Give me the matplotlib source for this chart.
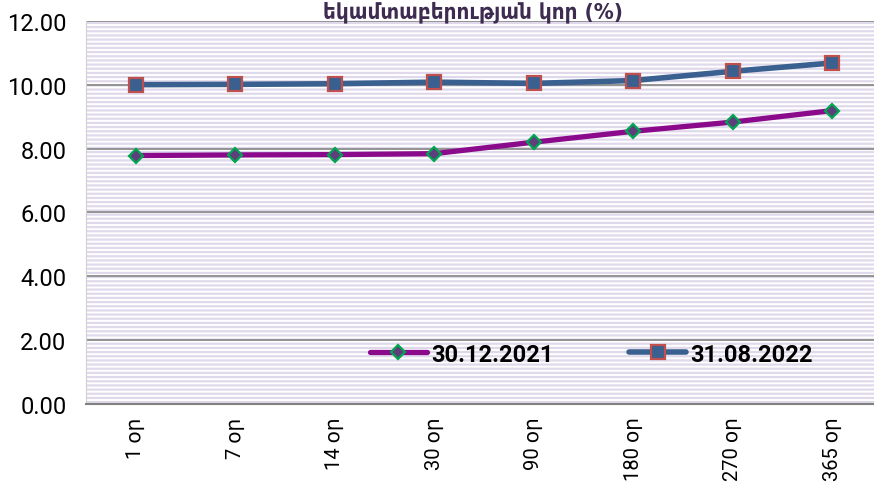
import numpy as np
import matplotlib
matplotlib.use("Agg")
import matplotlib.pyplot as plt
from matplotlib.patches import Rectangle

# yield curve data (%)
terms = ["1 օր", "7 օր", "14 օր", "30 օր", "90 օր", "180 օր", "270 օր", "365 օր"]
curve_2021 = [7.78, 7.80, 7.81, 7.84, 8.20, 8.54, 8.83, 9.19]
curve_2022 = [10.00, 10.01, 10.03, 10.08, 10.04, 10.13, 10.42, 10.68]
label_2021 = "30.12.2021"
label_2022 = "31.08.2022"
title = "եկամտաբերության կոր (%)"

plt.rcParams['font.family'] = ['Roboto', 'DejaVu Sans']
plt.rcParams['hatch.linewidth'] = 1.6

fig = plt.figure(figsize=(8.74, 4.85), dpi=100)
ax = fig.add_axes([0.0984, 0.165, 0.911, 0.79])

# striped background
bg = Rectangle((0, 0), 1, 1, transform=ax.transAxes, facecolor="white",
               edgecolor="#e0d9eb", hatch="----", linewidth=0, zorder=0)
ax.add_patch(bg)
ax.set_facecolor("white")

x = np.arange(len(terms))
ax.plot(x, curve_2021, color="#8b0a8b", lw=3.8, marker="D", ms=7,
        mfc="#5e3f7c", mec="#00a651", mew=1.6, label=label_2021, zorder=3,
        solid_capstyle="round")
ax.plot(x, curve_2022, color="#3a6090", lw=4.0, marker="s", ms=10.5,
        mfc="#3a6090", mec="#c0504d", mew=1.6, label=label_2022, zorder=3,
        solid_capstyle="round")

ax.set_xlim(-0.5, len(terms) - 0.5)
ax.set_ylim(0, 12)
ax.set_yticks(np.arange(0, 13, 2))
ax.set_yticklabels([f"{v:.2f}" for v in np.arange(0, 13, 2)])
ax.set_xticks(x)
ax.set_xticklabels(terms, rotation=90, va="top", ha="center", fontsize=14.5)
ax.tick_params(axis="y", length=0, labelsize=17, colors="black", pad=14)
ax.tick_params(axis="x", length=0, colors="black", pad=9)

ax.grid(axis="y", color="#8c8c8c", lw=1.3, zorder=1)
ax.set_axisbelow(True)
for s in ["top", "right"]:
    ax.spines[s].set_visible(False)
ax.spines["left"].set_color("#d0d0d0")
ax.spines["bottom"].set_color("#808080")
ax.spines["bottom"].set_linewidth(1.5)

leg = ax.legend(loc="center left", bbox_to_anchor=(0.33, 0.13), ncol=2,
                frameon=False, handlelength=2.4, handletextpad=0.2,
                columnspacing=3.2, prop={"weight": "bold", "size": 17})

fig.text(0.541, 0.997, title, ha="center", va="top", fontsize=16,
         fontweight="bold", fontstretch="condensed", family="DejaVu Sans",
         color="#3d2b50")

fig.savefig("out.png", dpi=100)
